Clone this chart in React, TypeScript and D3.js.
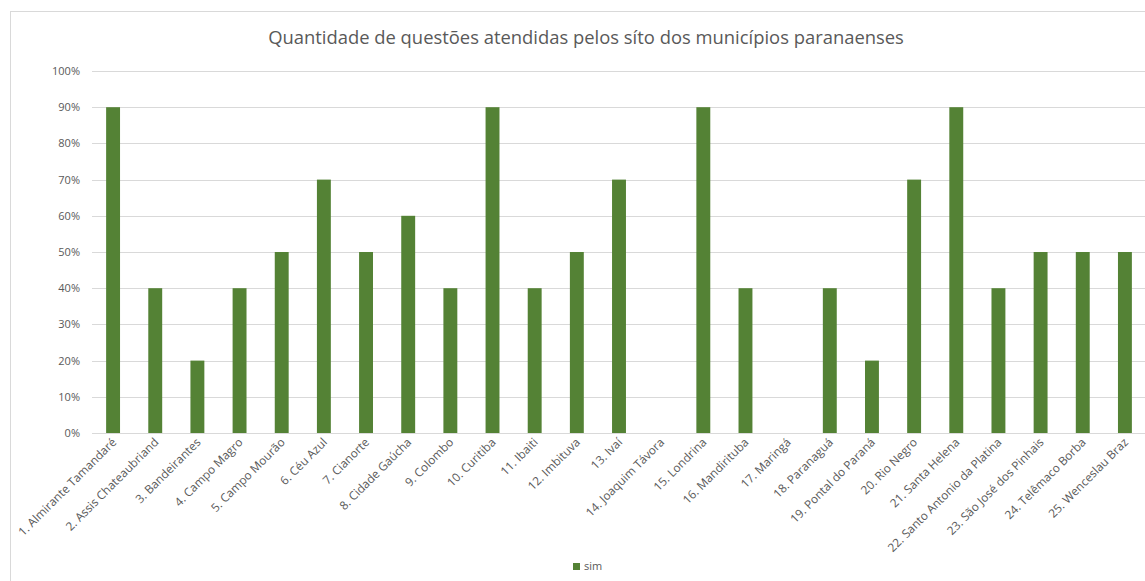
import React from "react";
import * as d3 from "d3";

const categories = [
  "1. Almirante Tamandaré",
  "2. Assis Chateaubriand",
  "3. Bandeirantes",
  "4. Campo Magro",
  "5. Campo Mourão",
  "6. Céu Azul",
  "7. Cianorte",
  "8. Cidade Gaúcha",
  "9. Colombo",
  "10. Curitiba",
  "11. Ibaiti",
  "12. Imbituva",
  "13. Ivaí",
  "14. Joaquim Távora",
  "15. Londrina",
  "16. Mandirituba",
  "17. Maringá",
  "18. Paranaguá",
  "19. Pontal do Paraná",
  "20. Rio Negro",
  "21. Santa Helena",
  "22. Santo Antonio da Platina",
  "23. São José dos Pinhais",
  "24. Telêmaco Borba",
  "25. Wenceslau Braz",
];
const simValues = [0.9, 0.4, 0.2, 0.4, 0.5, 0.7, 0.5, 0.6, 0.4, 0.9, 0.4, 0.5, 0.7, 0, 0.9, 0.4, 0, 0.4, 0.2, 0.7, 0.9, 0.4, 0.5, 0.5, 0.5];
const yTicks = [0, 0.1, 0.2, 0.3, 0.4, 0.5, 0.6, 0.7, 0.8, 0.9, 1.0];
const title = "Quantidade de questões atendidas pelos síto dos municípios paranaenses";
const seriesName = "sim";

const W = 1145;
const H = 581;
const font = "'Open Sans', 'Liberation Sans', sans-serif";
const barColor = "#548235";
const textColor = "#595959";

export default function App() {
  const x = d3.scaleBand<string>().domain(categories).range([92, 1146]).paddingInner(0.67).paddingOuter(0.335);
  const y = d3.scaleLinear().domain([0, 1]).range([433, 71]);
  const fmt = d3.format(".0%");
  return (
    <svg width={W} height={H} style={{ position: "absolute", left: 0, top: 0, background: "#fff" }} fontFamily={font}>
      <rect x={10.5} y={11.5} width={W} height={H} fill="#fff" stroke="#d9d9d9" strokeWidth={1} />
      <text x={586} y={44} textAnchor="middle" fontSize={18.4} fill={textColor}>{title}</text>
      {yTicks.map((t) => (
        <g key={t}>
          <line x1={92} x2={1146} y1={Math.round(y(t)) + 0.5} y2={Math.round(y(t)) + 0.5} stroke="#d9d9d9" strokeWidth={1} />
          <text x={80} y={y(t) + 4} textAnchor="end" fontSize={11} fill={textColor}>{fmt(t)}</text>
        </g>
      ))}
      {categories.map((c, i) => (
        <rect key={c} x={x(c)} width={x.bandwidth()} y={y(simValues[i])} height={y(0) - y(simValues[i])} fill={barColor} />
      ))}
      {categories.map((c) => {
        const cx = (x(c) as number) + x.bandwidth() / 2 + 4;
        const cy = 443;
        return (
          <text key={c} transform={`translate(${cx},${cy}) rotate(-45)`} textAnchor="end" fontSize={11.8} fill={textColor}>{c}</text>
        );
      })}
      <rect x={573} y={563} width={7} height={7} fill={barColor} />
      <text x={584} y={570} fontSize={11} fill={textColor}>{seriesName}</text>
    </svg>
  );
}
